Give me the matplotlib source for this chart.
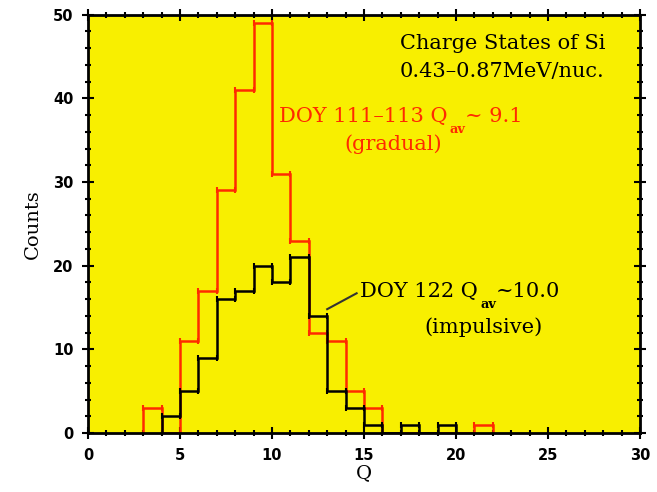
import numpy as np
import matplotlib
matplotlib.use("Agg")
import matplotlib.pyplot as plt
from matplotlib.transforms import offset_copy

# Charge-state histograms of Si (counts per unit charge bin)
q_red_start = 3
counts_gradual = [3, 0, 11, 17, 29, 41, 49, 31, 23, 12, 11, 5, 3, 0, 0, 0, 0, 0, 1]
q_black_start = 4
counts_impulsive = [2, 5, 9, 16, 17, 20, 18, 21, 14, 5, 3, 1, 0, 1, 0, 1]

x_ticks = [0, 5, 10, 15, 20, 25, 30]
y_ticks = [0, 10, 20, 30, 40, 50]

YELLOW = "#f8ef00"
RED = "#ff2a00"
serif = "DejaVu Serif"
FS = 15

fig = plt.figure(figsize=(6.57, 4.92), dpi=100)
ax = fig.add_axes([0.134, 0.120, 0.840, 0.850])
ax.set_facecolor(YELLOW)


def draw_hist(start, counts, color):
    counts = np.asarray(counts, dtype=float)
    edges = np.arange(start, start + len(counts) + 1)
    ax.stairs(counts, edges, baseline=0, fill=False, color=color, lw=1.8,
              zorder=2)
    nz = counts > 0
    ax.plot(edges[1:][nz], counts[nz], ls="none", marker="|", ms=5,
            mew=1.5, color=color, zorder=2)
    ax.plot(edges[:-1][nz], counts[nz], ls="none", marker="|", ms=5,
            mew=1.5, color=color, zorder=2)


draw_hist(q_red_start, counts_gradual, RED)
draw_hist(q_black_start, counts_impulsive, "black")

ax.set_xlim(0, 30)
ax.set_ylim(0, 50)
ax.set_xticks(x_ticks)
ax.set_yticks(y_ticks)
ax.set_xticks(np.arange(0, 31, 1), minor=True)
ax.set_yticks(np.arange(0, 51, 2), minor=True)
ax.tick_params(which="both", direction="inout", top=True, right=True,
               labeltop=False, labelright=False, width=1.5, color="black")
ax.tick_params(which="major", length=9)
ax.tick_params(which="minor", length=5)
for lab in ax.get_xticklabels() + ax.get_yticklabels():
    lab.set_fontweight("bold")
    lab.set_fontsize(10.5)
ax.tick_params(axis="x", pad=6)
ax.tick_params(axis="y", pad=6)
for s in ax.spines.values():
    s.set_linewidth(2)
    s.set_zorder(3)

ax.set_xlabel("Q", family=serif, fontsize=14, labelpad=1)
ax.set_ylabel("Counts", family=serif, fontsize=14, labelpad=8)

ax.text(0.565, 0.955, "Charge States of Si", transform=ax.transAxes,
        family=serif, fontsize=FS, va="top", ha="left")
ax.text(0.565, 0.888, "0.43\u20130.87MeV/nuc.", transform=ax.transAxes,
        family=serif, fontsize=FS, va="top", ha="left")

renderer = fig.canvas.get_renderer()


def label_with_sub(x, y, head, sub, tail, color):
    """Write head, a small lowered subscript, then tail, on one baseline."""
    t1 = ax.text(x, y, head, family=serif, fontsize=FS, color=color,
                 ha="left", va="baseline")
    w1 = t1.get_window_extent(renderer).width * 72 / fig.dpi
    t2 = ax.text(x, y, sub, family=serif, fontsize=FS * 0.62, color=color,
                 fontweight="bold", ha="left", va="top",
                 transform=offset_copy(ax.transData, fig=fig, x=w1 + 1.5,
                                       y=-1, units="points"))
    w2 = t2.get_window_extent(renderer).width * 72 / fig.dpi
    ax.text(x, y, tail, family=serif, fontsize=FS, color=color,
            ha="left", va="baseline",
            transform=offset_copy(ax.transData, fig=fig, x=w1 + w2 + 1,
                                  y=0, units="points"))


label_with_sub(10.4, 37.2, "DOY 111\u2013113 Q", "av", "~ 9.1", RED)
ax.text(16.6, 34.5, "(gradual)", family=serif, fontsize=FS, color=RED,
        ha="center", va="center")

label_with_sub(14.8, 16.3, "DOY 122 Q", "av", "~10.0", "black")
ax.text(21.5, 12.7, "(impulsive)", family=serif, fontsize=FS,
        color="black", ha="center", va="center")
ax.plot([13.0, 14.6], [14.8, 16.7], color="#333333", lw=1.5, zorder=2)

fig.savefig("out.png", dpi=100, facecolor="white")
